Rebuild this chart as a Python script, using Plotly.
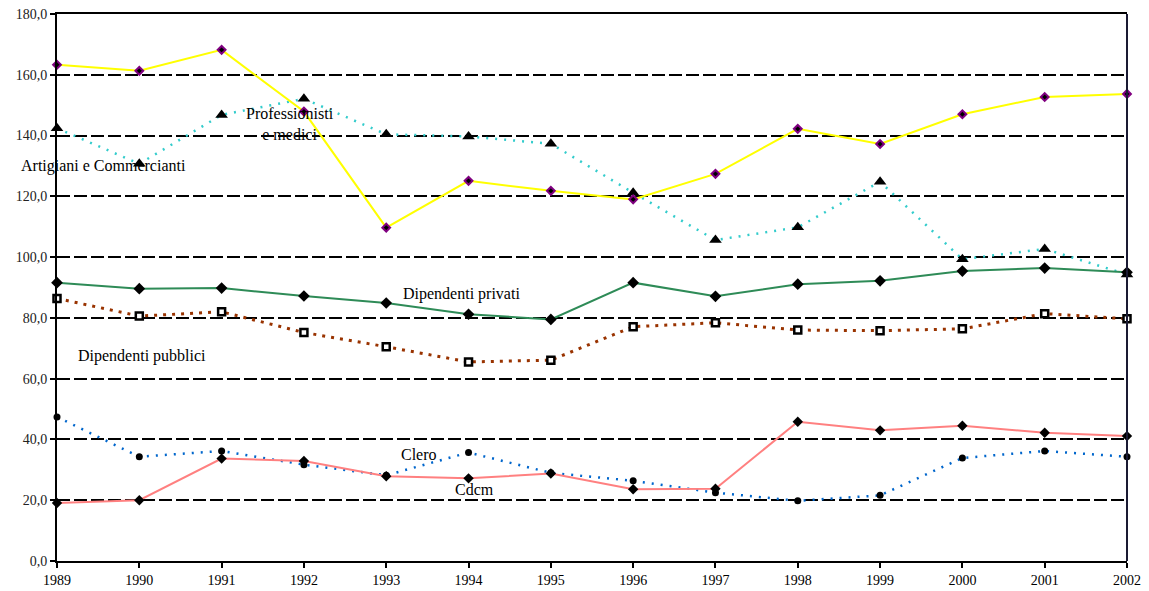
import plotly.graph_objects as go

years = list(range(1989, 2003))

professionisti = [163.3, 161.3, 168.2, 147.9, 109.7, 125.1, 121.8, 119.0, 127.4, 142.2, 137.2, 147.0, 152.7, 153.7]
artigiani = [142.4, 130.7, 146.8, 152.1, 140.4, 139.7, 137.3, 121.2, 105.6, 109.8, 124.8, 99.3, 102.7, 94.3]
dip_privati = [91.6, 89.6, 89.8, 87.2, 84.9, 81.2, 79.5, 91.6, 87.1, 91.1, 92.2, 95.4, 96.4, 95.0]
dip_pubblici = [86.4, 80.6, 82.0, 75.2, 70.5, 65.5, 66.1, 77.1, 78.4, 76.0, 75.8, 76.4, 81.4, 79.7]
cdcm = [19.1, 20.0, 33.7, 32.9, 27.9, 27.2, 28.8, 23.6, 23.8, 45.8, 43.0, 44.5, 42.2, 41.1]
clero = [47.4, 34.3, 36.2, 31.7, 28.2, 35.7, 29.0, 26.4, 22.5, 19.8, 21.6, 33.9, 36.2, 34.3]

y_ticks = [0, 20, 40, 60, 80, 100, 120, 140, 160, 180]

FONT = "Times New Roman"

fig = go.Figure()

# dotted series first, solid lines over them
fig.add_trace(go.Scatter(
    x=years, y=artigiani, mode="lines+markers", name="Artigiani e Commercianti",
    line=dict(color="#33CCCC", width=2.5, dash="2px,7px"),
    marker=dict(symbol="triangle-up", size=11, color="black"),
))
fig.add_trace(go.Scatter(
    x=years, y=dip_pubblici, mode="lines+markers", name="Dipendenti pubblici",
    line=dict(color="#993300", width=3, dash="3px,6px"),
    marker=dict(symbol="square", size=7, color="white", line=dict(color="black", width=2.5)),
))
fig.add_trace(go.Scatter(
    x=years, y=clero, mode="lines+markers", name="Clero",
    line=dict(color="#0066CC", width=2.5, dash="2px,7px"),
    marker=dict(symbol="circle", size=7, color="black"),
))
fig.add_trace(go.Scatter(
    x=years, y=professionisti, mode="lines+markers", name="Professionisti e medici",
    line=dict(color="#FFFF00", width=2),
    marker=dict(symbol="diamond", size=6, color="black", line=dict(color="#800080", width=2)),
))
fig.add_trace(go.Scatter(
    x=years, y=dip_privati, mode="lines+markers", name="Dipendenti privati",
    line=dict(color="#2E8B57", width=2),
    marker=dict(symbol="diamond", size=9, color="black"),
))
fig.add_trace(go.Scatter(
    x=years, y=cdcm, mode="lines+markers", name="Cdcm",
    line=dict(color="#FF8080", width=2),
    marker=dict(symbol="diamond", size=8, color="black"),
))
fig.update_traces(cliponaxis=False)

labels = [
    ("Professionisti<br>e medici", 1991.83, 143.8),
    ("Artigiani e Commercianti", 1989.56, 130.1),
    ("Dipendenti privati", 1993.91, 87.8),
    ("Dipendenti pubblici", 1990.03, 67.4),
    ("Clero", 1993.40, 35.1),
    ("Cdcm", 1994.07, 23.6),
]
for text, x, y in labels:
    fig.add_annotation(x=x, y=y, text=text, showarrow=False, align="center",
                       font=dict(family=FONT, size=16, color="black"))

# right border
fig.add_shape(type="line", xref="paper", yref="paper", x0=1, x1=1, y0=0, y1=1,
              line=dict(color="#1a1a33", width=2))

fig.update_layout(
    width=1149, height=591,
    margin=dict(l=57, r=22, t=14, b=30),
    paper_bgcolor="white", plot_bgcolor="white",
    showlegend=False,
    separators=",.",
    font=dict(family=FONT, size=14, color="black"),
)
fig.update_xaxes(
    range=[1989, 2002], tickvals=years, ticktext=[str(y) for y in years],
    showgrid=False, zeroline=False, automargin=False,
    showline=True, linecolor="black", linewidth=2, mirror=True,
    ticks="outside", ticklen=5, tickwidth=1.5, tickcolor="black",
    tickfont=dict(family=FONT, size=14, color="black"),
)
fig.update_yaxes(
    range=[0, 180], tickvals=y_ticks, tickformat=".1f",
    showgrid=True, gridcolor="black", gridwidth=2, griddash="13px,4px",
    zeroline=False, automargin=False,
    showline=True, linecolor="black", linewidth=2,
    ticks="outside", ticklen=5, tickwidth=1.5, tickcolor="black",
    tickfont=dict(family=FONT, size=14, color="#222"),
)

# page body has a default 8px margin; drop it so the figure fills the window
fig.write_html("out.html", config={"displayModeBar": False},
               post_script="document.body.style.margin='0';")
